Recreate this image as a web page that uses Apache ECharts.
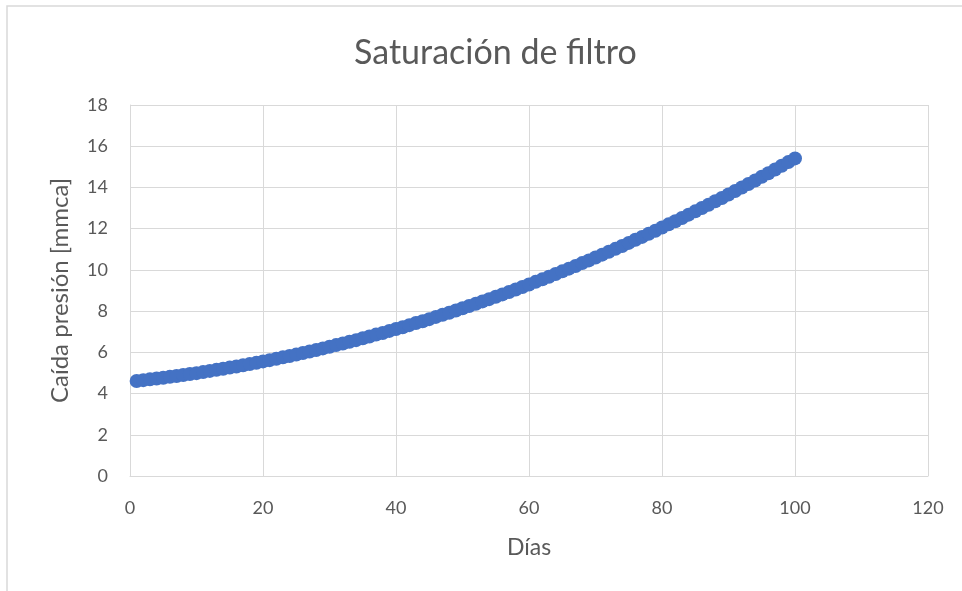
<!DOCTYPE html>
<html>
<head>
<meta charset="utf-8">
<script src="https://cdn.jsdelivr.net/npm/echarts@6/dist/echarts.min.js"></script>
<style>
  html, body { margin: 0; padding: 0; background: #ffffff; }
  #chart { width: 962px; height: 591px; }
</style>
</head>
<body>
<div id="chart"></div>
<script>
// Pressure drop across the filter, one reading per day
const dias = [
  1, 2, 3, 4, 5, 6, 7, 8, 9, 10,
  11, 12, 13, 14, 15, 16, 17, 18, 19, 20,
  21, 22, 23, 24, 25, 26, 27, 28, 29, 30,
  31, 32, 33, 34, 35, 36, 37, 38, 39, 40,
  41, 42, 43, 44, 45, 46, 47, 48, 49, 50,
  51, 52, 53, 54, 55, 56, 57, 58, 59, 60,
  61, 62, 63, 64, 65, 66, 67, 68, 69, 70,
  71, 72, 73, 74, 75, 76, 77, 78, 79, 80,
  81, 82, 83, 84, 85, 86, 87, 88, 89, 90,
  91, 92, 93, 94, 95, 96, 97, 98, 99, 100
];
const caidaPresion = [
  4.61, 4.65, 4.69, 4.73, 4.77, 4.81, 4.85, 4.90, 4.95, 4.99,
  5.04, 5.10, 5.15, 5.20, 5.26, 5.31, 5.37, 5.43, 5.49, 5.56,
  5.62, 5.69, 5.76, 5.82, 5.89, 5.97, 6.04, 6.11, 6.19, 6.27,
  6.35, 6.43, 6.51, 6.59, 6.68, 6.77, 6.86, 6.94, 7.04, 7.13,
  7.22, 7.32, 7.42, 7.51, 7.61, 7.72, 7.82, 7.92, 8.03, 8.14,
  8.25, 8.36, 8.47, 8.58, 8.70, 8.81, 8.93, 9.05, 9.17, 9.29,
  9.42, 9.54, 9.67, 9.80, 9.93, 10.06, 10.19, 10.33, 10.46, 10.60,
  10.74, 10.88, 11.02, 11.16, 11.31, 11.46, 11.60, 11.75, 11.90, 12.06,
  12.21, 12.36, 12.52, 12.68, 12.84, 13.00, 13.16, 13.33, 13.49, 13.66,
  13.83, 14.00, 14.17, 14.34, 14.52, 14.69, 14.87, 15.05, 15.23, 15.41
];

const tituloGrafico = 'Saturación de filtro';
const tituloEjeX = 'Días';
const tituloEjeY = 'Caída presión [mmca]';

const puntos = dias.map((d, i) => [d, caidaPresion[i]]);

const FONT = 'Lato, "Open Sans", sans-serif';
const GRIS_TEXTO = '#595959';
const GRIS_REJILLA = '#d9d9d9';

const chart = echarts.init(document.getElementById('chart'), null, { renderer: 'canvas' });

chart.setOption({
  backgroundColor: '#ffffff',
  animation: false,
  graphic: [{
    type: 'rect',
    shape: { x: 7, y: 6, width: 1000, height: 700 },
    style: { fill: 'none', stroke: GRIS_REJILLA, lineWidth: 1.5 },
    silent: true,
    z: -10
  }],
  title: {
    text: tituloGrafico,
    left: 349,
    top: 31,
    textStyle: { fontFamily: FONT, fontSize: 34, fontWeight: 'normal', color: GRIS_TEXTO }
  },
  grid: { left: 130, right: 34, top: 105, bottom: 115 },
  xAxis: {
    type: 'value',
    min: 0, max: 120, interval: 20,
    name: tituloEjeX,
    nameLocation: 'middle',
    nameGap: 60,
    nameTextStyle: { fontFamily: FONT, fontSize: 23, color: GRIS_TEXTO },
    axisLine: { show: true, lineStyle: { color: GRIS_REJILLA, width: 1 } },
    axisTick: { show: false },
    axisLabel: { fontFamily: FONT, fontSize: 18, color: GRIS_TEXTO, margin: 23 },
    splitLine: { show: true, lineStyle: { color: GRIS_REJILLA, width: 1 } }
  },
  yAxis: {
    type: 'value',
    min: 0, max: 18, interval: 2,
    name: tituloEjeY,
    nameLocation: 'middle',
    nameGap: 58,
    nameTextStyle: { fontFamily: FONT, fontSize: 24, color: GRIS_TEXTO },
    axisLine: { show: true, lineStyle: { color: GRIS_REJILLA, width: 1 } },
    axisTick: { show: false },
    axisLabel: { fontFamily: FONT, fontSize: 18, color: GRIS_TEXTO, margin: 22 },
    splitLine: { show: true, lineStyle: { color: GRIS_REJILLA, width: 1 } }
  },
  series: [{
    type: 'scatter',
    data: puntos,
    symbol: 'circle',
    symbolSize: 14,
    itemStyle: { color: '#4472C4', opacity: 1 },
    emphasis: { disabled: true }
  }]
});
</script>
</body>
</html>
